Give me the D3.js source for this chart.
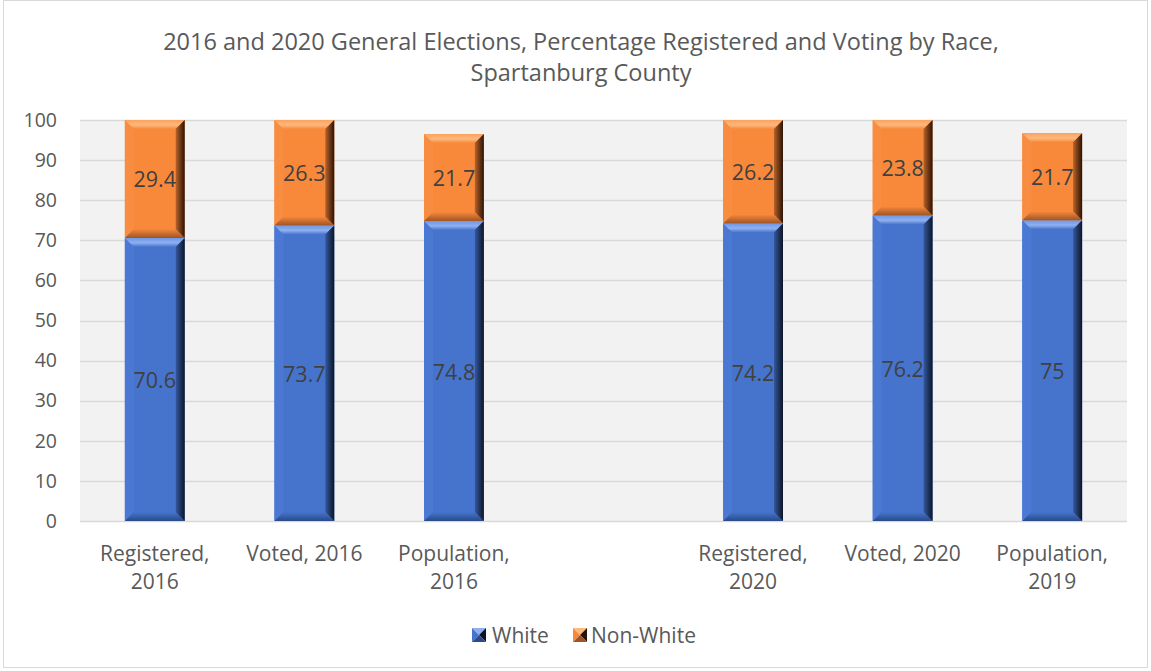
<!DOCTYPE html>
<html>
<head>
<meta charset="utf-8">
<script src="https://cdn.jsdelivr.net/npm/d3@7"></script>
<style>
  html, body { margin: 0; padding: 0; background: #fff; }
  svg { display: block; font-family: "Open Sans", "Liberation Sans", sans-serif; }
</style>
</head>
<body>
<svg id="chart" width="1151" height="671"></svg>
<script>
// Category slots (an empty slot separates the 2016 and 2020 groups)
const categories = [
  ["Registered,", "2016"],
  ["Voted, 2016"],
  ["Population,", "2016"],
  [""],
  ["Registered,", "2020"],
  ["Voted, 2020"],
  ["Population,", "2019"]
];
const whiteValues    = [70.6, 73.7, 74.8, null, 74.2, 76.2, 75];
const nonWhiteValues = [29.4, 26.3, 21.7, null, 26.2, 23.8, 21.7];
const seriesNames = ["White", "Non-White"];
const yTicks = [0, 10, 20, 30, 40, 50, 60, 70, 80, 90, 100];
const titleLines = [
  "2016 and 2020 General Elections, Percentage Registered and Voting by Race,",
  "Spartanburg County"
];

const W = 1151, H = 671;
const plot = { left: 80, right: 1127, top: 120, bottom: 521 };
const svg = d3.select("#chart");

// chart frame
svg.append("rect").attr("x", 3.5).attr("y", 0.5).attr("width", W - 7).attr("height", H - 4)
  .attr("fill", "#fff").attr("stroke", "#d9d9d9").attr("stroke-width", 1);

// plot background
svg.append("rect").attr("x", plot.left).attr("y", plot.top)
  .attr("width", plot.right - plot.left).attr("height", plot.bottom - plot.top)
  .attr("fill", "#f2f2f2");

const x = d3.scaleBand().domain(d3.range(categories.length))
  .range([plot.left, plot.right]).paddingInner(0.6).paddingOuter(0.3);
const y = d3.scaleLinear().domain([0, 100]).range([plot.bottom, plot.top]).clamp(true);

// gridlines
svg.append("g").selectAll("line").data(yTicks).join("line")
  .attr("x1", plot.left).attr("x2", plot.right)
  .attr("y1", d => Math.round(y(d)) + 0.5).attr("y2", d => Math.round(y(d)) + 0.5)
  .attr("stroke", "#d9d9d9").attr("stroke-width", 1.3);

// y axis labels
const yAxis = d3.axisLeft(y).tickValues(yTicks).tickSize(0).tickPadding(0);
const yg = svg.append("g").attr("transform", `translate(${plot.left - 23},0)`).call(yAxis);
yg.select(".domain").remove();
yg.selectAll("text").attr("font-size", 19.5).attr("fill", "#595959")
  .attr("font-family", "'Open Sans', sans-serif");

// x axis labels (multi-line)
const xg = svg.append("g");
categories.forEach((lines, i) => {
  const t = xg.append("text").attr("text-anchor", "middle")
    .attr("x", x(i) + x.bandwidth() / 2).attr("y", 561)
    .attr("font-size", 21).attr("fill", "#595959");
  lines.forEach((ln, k) => t.append("tspan").attr("x", x(i) + x.bandwidth() / 2)
    .attr("dy", k === 0 ? 0 : 28).text(ln));
});

// gradients for bevel edges
const defs = svg.append("defs");
const palette = {
  "White":     { face: "#4674cd", top: "#6f97e6", topHi: "#8fb0f0", left: "#4a78d2", bottom: "#2a4a88", right0: "#34589e", right1: "#0c1526" },
  "Non-White": { face: "#f8893b", top: "#fba25f", topHi: "#fdb97e", left: "#f88c40", bottom: "#9f5426", right0: "#b8622a", right1: "#2a1306" }
};
Object.entries(palette).forEach(([name, c], idx) => {
  const gR = defs.append("linearGradient").attr("id", "gr" + idx).attr("x1", 0).attr("x2", 1).attr("y1", 0).attr("y2", 0);
  gR.append("stop").attr("offset", 0).attr("stop-color", c.right0);
  gR.append("stop").attr("offset", 1).attr("stop-color", c.right1);
  const gT = defs.append("linearGradient").attr("id", "gt" + idx).attr("x1", 0).attr("x2", 0).attr("y1", 0).attr("y2", 1);
  gT.append("stop").attr("offset", 0).attr("stop-color", c.top);
  gT.append("stop").attr("offset", 0.55).attr("stop-color", c.topHi);
  gT.append("stop").attr("offset", 1).attr("stop-color", c.face);
  const gB = defs.append("linearGradient").attr("id", "gb" + idx).attr("x1", 0).attr("x2", 0).attr("y1", 0).attr("y2", 1);
  gB.append("stop").attr("offset", 0).attr("stop-color", c.face);
  gB.append("stop").attr("offset", 1).attr("stop-color", c.bottom);
});

function bevelBar(g, x0, x1, y0, y1, name, idx, b) {
  const c = palette[name];
  const h = y1 - y0;
  b = Math.min(b, h / 2, (x1 - x0) / 2);
  const pts = a => a.map(p => p.join(",")).join(" ");
  g.append("rect").attr("x", x0).attr("y", y0).attr("width", x1 - x0).attr("height", h).attr("fill", c.face);
  g.append("polygon").attr("points", pts([[x0, y0], [x0 + b, y0 + b], [x0 + b, y1 - b], [x0, y1]])).attr("fill", c.left);
  g.append("polygon").attr("points", pts([[x0, y0], [x1, y0], [x1 - b, y0 + b], [x0 + b, y0 + b]])).attr("fill", `url(#gt${idx})`);
  g.append("polygon").attr("points", pts([[x0, y1], [x1, y1], [x1 - b, y1 - b], [x0 + b, y1 - b]])).attr("fill", `url(#gb${idx})`);
  g.append("polygon").attr("points", pts([[x1, y0], [x1, y1], [x1 - b, y1 - b], [x1 - b, y0 + b]])).attr("fill", `url(#gr${idx})`);
}

// stacked bars
const rows = categories.map((c, i) => ({ i, White: whiteValues[i], "Non-White": nonWhiteValues[i] }))
  .filter(r => r.White != null);
const stack = d3.stack().keys(seriesNames)(rows);
const barsG = svg.append("g");
const labelsG = svg.append("g");
stack.forEach((layer, idx) => {
  layer.forEach(seg => {
    const i = seg.data.i;
    const x0 = x(i), x1 = x(i) + x.bandwidth();
    const yTop = y(seg[1]), yBot = y(seg[0]);
    bevelBar(barsG, x0, x1, yTop, yBot, layer.key, idx, 9);
    const v = seg.data[layer.key];
    labelsG.append("text").attr("x", (x0 + x1) / 2).attr("y", (yTop + yBot) / 2)
      .attr("text-anchor", "middle").attr("dominant-baseline", "central")
      .attr("font-size", 21.5).attr("fill", "#404040").text(v);
  });
});

// title
const title = svg.append("text").attr("text-anchor", "middle").attr("font-size", 23.5).attr("fill", "#595959");
titleLines.forEach((ln, k) => title.append("tspan").attr("x", 581).attr("y", 50 + k * 31).text(ln));

// legend
const legend = [
  { name: "White", idx: 0, sx: 472, tx: 492 },
  { name: "Non-White", idx: 1, sx: 573, tx: 591 }
];
legend.forEach(l => {
  const g = svg.append("g");
  const s = 14, x0 = l.sx, y0 = 628, c = palette[l.name];
  const pts = a => a.map(p => p.join(",")).join(" ");
  const cx = x0 + s / 2, cy = y0 + s / 2;
  g.append("polygon").attr("points", pts([[x0, y0], [x0 + s, y0], [cx, cy]])).attr("fill", c.topHi);
  g.append("polygon").attr("points", pts([[x0, y0], [x0, y0 + s], [cx, cy]])).attr("fill", c.face);
  g.append("polygon").attr("points", pts([[x0 + s, y0], [x0 + s, y0 + s], [cx, cy]])).attr("fill", c.right1);
  g.append("polygon").attr("points", pts([[x0, y0 + s], [x0 + s, y0 + s], [cx, cy]])).attr("fill", c.bottom);
  svg.append("text").attr("x", l.tx).attr("y", cy).attr("dominant-baseline", "central")
    .attr("font-size", 21).attr("fill", "#595959").text(l.name);
});
</script>
</body>
</html>
